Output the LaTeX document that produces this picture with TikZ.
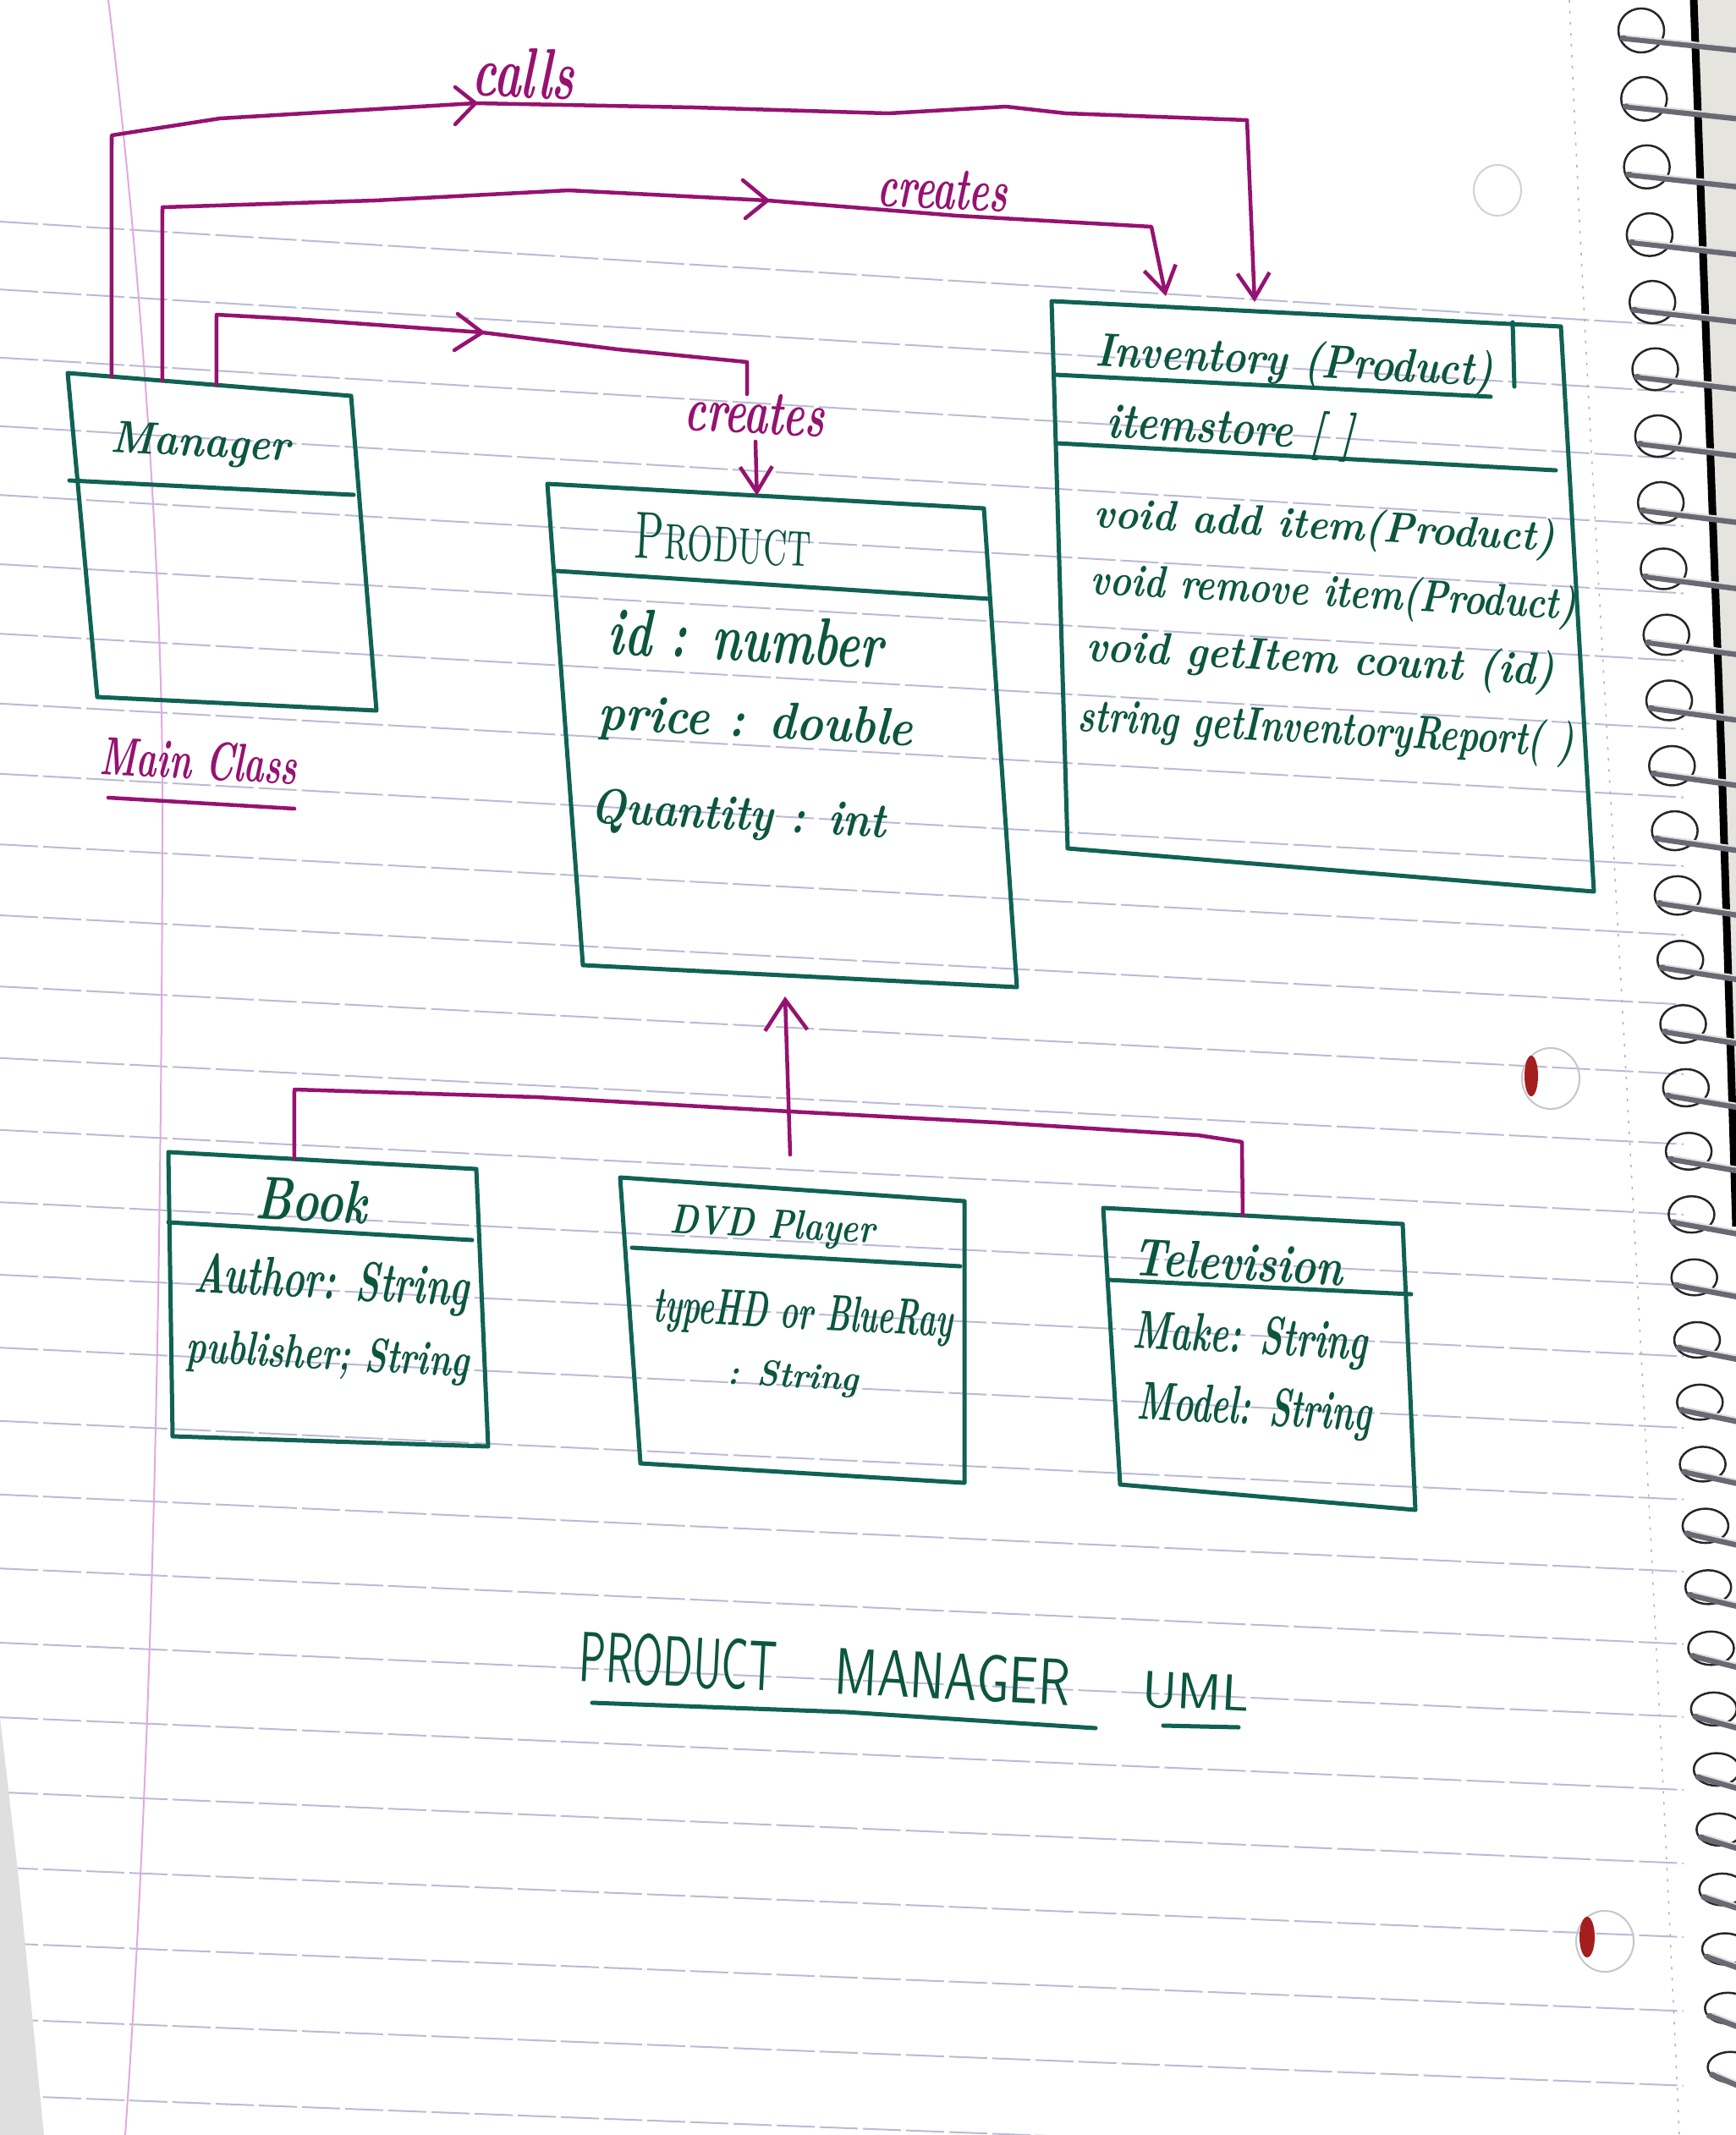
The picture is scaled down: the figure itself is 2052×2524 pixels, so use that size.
\documentclass[tikz,border=0pt]{standalone}
\usetikzlibrary{arrows.meta,calc}

\definecolor{inkgreen}{RGB}{12,86,62}
\definecolor{boxgreen}{RGB}{16,98,84}
\definecolor{inkpurple}{RGB}{150,18,112}
\definecolor{ruleblue}{RGB}{188,186,214}
\definecolor{marginpink}{RGB}{226,170,222}
\definecolor{wiregray}{RGB}{105,105,115}
\definecolor{holered}{RGB}{165,30,30}
\definecolor{coverside}{RGB}{230,228,222}

% handwriting-sized text: width, height above baseline, text
\newcommand{\handw}[3]{\resizebox{#1}{#2}{#3}}

\tikzset{
  classbox/.style={draw=boxgreen, line width=0.05cm, line join=round, line cap=round},
  link/.style={draw=inkpurple, line width=0.045cm, line join=round, line cap=round},
  tipped/.style={link, -{Straight Barb[length=0.3cm,width=0.38cm]}},
  txt/.style={anchor=base west, inner sep=0pt, rotate=-3, text=inkgreen, font=\bfseries\itshape},
  ptxt/.style={txt, text=inkpurple},
  ruling/.style={draw=ruleblue, line width=0.02cm, dash pattern=on 0.45cm off 0.06cm},
}

\begin{document}
\begin{tikzpicture}[x=0.01cm, y=-0.01cm]
\useasboundingbox (0,0) rectangle (2052,2524);
\fill[white] (0,0) rectangle (2052,2524);

% ---------- notebook paper ----------
\foreach \i in {0,...,26} {
  \pgfmathsetmacro\yy{262+80*\i+0.2*\i*\i}
  \pgfmathsetmacro\ss{0.062-0.0009*\i}
  \draw[ruling] (0,\yy) -- (1990,{\yy+\ss*1990});
}
\draw[marginpink, line width=0.02cm] (128,0) .. controls (165,300) and (195,700) .. (192,1000)
  .. controls (190,1600) and (178,2100) .. (148,2524);
\draw[gray!60, line width=0.015cm, dash pattern=on 0.03cm off 0.1cm]
  (1855,0) .. controls (1885,700) and (1930,1300) .. (1985,2524);
% punched holes
\draw[gray!35, line width=0.02cm] (1770,225) ellipse [x radius=0.28cm, y radius=0.3cm];
\draw[gray!45, line width=0.02cm] (1833,1275) ellipse [x radius=0.34cm, y radius=0.36cm];
\fill[holered] (1810,1272) ellipse [x radius=0.08cm, y radius=0.24cm];
\draw[gray!45, line width=0.02cm] (1897,2295) ellipse [x radius=0.34cm, y radius=0.36cm];
\fill[holered] (1876,2290) ellipse [x radius=0.09cm, y radius=0.24cm];
% page edge shadow
\fill[gray!25] (0,2030) -- (22,2220) -- (52,2524) -- (0,2524) -- cycle;
% cover edge and spiral binding
\fill[coverside] (2002,0) -- (2052,0) -- (2052,1450) -- (2035,900) -- cycle;
\draw[black, line width=0.09cm] (2002,0) -- (2035,900) -- (2052,1450);
\foreach \k in {0,...,32} {
  \pgfmathsetmacro\cy{36+81*\k-0.18*\k*\k}
  \pgfmathsetmacro\cx{1940+3.3*\k}
  \pgfmathsetmacro\ry{0.26-0.0025*\k}
  \draw[black!85, line width=0.025cm] (\cx,\cy) ellipse [x radius=0.27cm, y radius=\ry cm];
  \draw[wiregray, line width=0.07cm, line cap=round] ({\cx-22},{\cy+9}) -- (2060,{\cy+24});
  \draw[gray!25, line width=0.02cm] ({\cx-18},{\cy+6}) -- (2060,{\cy+20});
}

% ---------- class boxes ----------
% Manager
\coordinate (mgr-tl) at (80,441);  \coordinate (mgr-tr) at (415,468);
\coordinate (mgr-br) at (445,840); \coordinate (mgr-bl) at (115,824);
\draw[classbox] (mgr-tl) -- (mgr-tr) -- (mgr-br) -- (mgr-bl) -- cycle;
\draw[classbox] (82,568) -- (418,585);

% Product
\coordinate (prod-tl) at (647,572);   \coordinate (prod-tr) at (1163,601);
\coordinate (prod-br) at (1202,1167); \coordinate (prod-bl) at (689,1141);
\draw[classbox] (prod-tl) -- (prod-tr) -- (prod-br) -- (prod-bl) -- cycle;
\draw[classbox] (658,675) -- (1170,708);

% Inventory
\coordinate (inv-tl) at (1243,356);  \coordinate (inv-tr) at (1845,386);
\coordinate (inv-br) at (1884,1054); \coordinate (inv-bl) at (1262,1003);
\draw[classbox] (inv-tl) -- (inv-tr) -- (inv-br) -- (inv-bl) -- cycle;
\draw[classbox] (1247,443) -- (1762,469);
\draw[classbox] (1249,524) -- (1839,556);
\draw[classbox] (1788,381) -- (1790,457);

% Book
\coordinate (book-tl) at (199,1362); \coordinate (book-tr) at (563,1382);
\coordinate (book-br) at (577,1710); \coordinate (book-bl) at (204,1698);
\draw[classbox] (book-tl) -- (book-tr) -- (book-br) -- (book-bl) -- cycle;
\draw[classbox] (199,1445) -- (558,1466);

% DVD Player
\coordinate (dvd-tl) at (733,1392);  \coordinate (dvd-tr) at (1140,1420);
\coordinate (dvd-br) at (1140,1753); \coordinate (dvd-bl) at (757,1730);
\draw[classbox] (dvd-tl) -- (dvd-tr) -- (dvd-br) -- (dvd-bl) -- cycle;
\draw[classbox] (747,1475) -- (1135,1497);

% Television
\coordinate (tv-tl) at (1304,1428); \coordinate (tv-tr) at (1658,1447);
\coordinate (tv-br) at (1673,1785); \coordinate (tv-bl) at (1324,1755);
\draw[classbox] (tv-tl) -- (tv-tr) -- (tv-br) -- (tv-bl) -- cycle;
\draw[classbox] (1309,1513) -- (1668,1530);

% ---------- texts ----------
\node[txt] (mgr-name) at (130,534) {\handw{2.12cm}{0.37cm}{Manager}};
\node[ptxt] (main-lbl) at (117,915) {\handw{2.33cm}{0.45cm}{Main Class}};
\draw[link] (128,943) -- (348,956);

\node[txt, font=\rmfamily\upshape] (prod-name) at (748,659) {\handw{2.09cm}{0.54cm}{\textsc{Product}}};
\node[txt] (prod-a1) at (717,773) {\handw{3.25cm}{0.55cm}{id : number}};
\node[txt] (prod-a2) at (706,862) {\handw{3.72cm}{0.43cm}{price : double}};
\node[txt] (prod-a3) at (697,972) {\handw{3.49cm}{0.41cm}{Quantity : int}};

\node[txt] (inv-name) at (1294,432) {\handw{4.70cm}{0.42cm}{Inventory (Product)}};
\node[txt] (inv-attr) at (1307,517) {\handw{2.93cm}{0.44cm}{itemstore [ ]}};
\node[txt] (inv-m1) at (1292,623) {\handw{5.45cm}{0.38cm}{void add item(Product)}};
\node[txt] (inv-m2) at (1288,702) {\handw{5.74cm}{0.4cm}{void remove item(Product)}};
\node[txt] (inv-m3) at (1283,781) {\handw{5.54cm}{0.4cm}{void getItem count (id)}};
\node[txt] (inv-m4) at (1273,864) {\handw{5.87cm}{0.42cm}{string getInventoryReport( )}};

\node[txt] (book-name) at (301,1440) {\handw{1.31cm}{0.5cm}{Book}};
\node[txt] (book-a1) at (228,1527) {\handw{3.25cm}{0.47cm}{Author: String}};
\node[txt] (book-a2) at (219,1610) {\handw{3.34cm}{0.4cm}{publisher; String}};

\node[txt] (dvd-name) at (791,1457) {\handw{2.42cm}{0.34cm}{DVD Player}};
\node[txt] (dvd-a1) at (771,1562) {\handw{3.54cm}{0.42cm}{typeHD or BlueRay}};
\node[txt] (dvd-a2) at (859,1636) {\handw{1.55cm}{0.3cm}{: String}};

\node[txt] (tv-name) at (1338,1507) {\handw{2.48cm}{0.44cm}{Television}};
\node[txt] (tv-a1) at (1338,1593) {\handw{2.77cm}{0.45cm}{Make: String}};
\node[txt] (tv-a2) at (1343,1677) {\handw{2.77cm}{0.45cm}{Model: String}};

% title
\node[txt, font=\sffamily\upshape] (title-a) at (683,1987) {\handw{2.33cm}{0.6cm}{PRODUCT}};
\node[txt, font=\sffamily\upshape] (title-b) at (985,2002) {\handw{2.78cm}{0.55cm}{MANAGER}};
\node[txt, font=\sffamily\upshape] (title-c) at (1349,2017) {\handw{1.26cm}{0.42cm}{UML}};
\draw[classbox] (700,2013) -- (1000,2024) -- (1295,2043);
\draw[classbox] (1375,2040) -- (1464,2042);

% ---------- connectors ----------
% Manager calls Inventory
\coordinate (calls-start) at ($(mgr-tl)!0.155!(mgr-tr)$);
\coordinate (calls-up)    at (132,160);
\coordinate (calls-chev)  at (562,122);
\coordinate (calls-turn)  at (1474,142);
\coordinate (calls-end)   at (1483,357);
\draw[tipped] (calls-start) -- (calls-up) -- (260,140) -- (calls-chev) -- (820,127)
  -- (1050,134) -- (1189,126) -- (1260,134) -- (calls-turn) -- (calls-end);
\draw[link] ($(calls-chev)+(-24,-19)$) -- (calls-chev) -- ($(calls-chev)+(-24,25)$);
\node[ptxt] (lbl-calls) at (557,112) {\handw{1.2cm}{0.59cm}{calls}};

% Manager creates Inventory
\coordinate (ci-start) at ($(mgr-tl)!0.334!(mgr-tr)$);
\coordinate (ci-up)    at (192,245);
\coordinate (ci-chev)  at (907,237);
\coordinate (ci-turn)  at (1361,268);
\coordinate (ci-end)   at (1378,350);
\draw[tipped] (ci-start) -- (ci-up) -- (443,237) -- (672,225) -- (ci-chev)
  -- (1131,255) -- (ci-turn) -- (ci-end);
\draw[link] ($(ci-chev)+(-29,-24)$) -- (ci-chev) -- ($(ci-chev)+(-26,21)$);
\node[ptxt] (lbl-ci) at (1036,243) {\handw{1.53cm}{0.46cm}{creates}};

% Manager creates Product
\coordinate (cp-start) at ($(mgr-tl)!0.525!(mgr-tr)$);
\coordinate (cp-up)    at (256,372);
\coordinate (cp-chev)  at (570,393);
\coordinate (cp-turn)  at (883,428);
\coordinate (cp-stop)  at (883,466);
\coordinate (cp-resume) at (893,522);
\coordinate (cp-end)   at ($(prod-tl)!0.48!(prod-tr)$);
\draw[link] (cp-start) -- (cp-up) -- (347,377) -- (cp-chev) -- (730,413) -- (cp-turn) -- (cp-stop);
\draw[link] ($(cp-chev)+(-29,-22)$) -- (cp-chev) -- ($(cp-chev)+(-33,21)$);
\node[ptxt] (lbl-cp) at (808,508) {\handw{1.65cm}{0.48cm}{creates}};
\draw[tipped] (cp-resume) -- (cp-end);

% subclasses generalise Product
\coordinate (inh-book) at ($(book-tl)!0.409!(book-tr)$);
\coordinate (inh-up)   at (348,1288);
\coordinate (inh-mid)  at (934,1314);
\coordinate (inh-turn) at (1468,1350);
\coordinate (inh-tv)   at ($(tv-tl)!0.466!(tv-tr)$);
\coordinate (inh-stub) at (934,1365);
\coordinate (inh-tip)  at (928,1178);
\draw[link] (inh-book) -- (inh-up) -- (635,1297) -- (inh-mid) -- (1177,1327)
  -- (1416,1342) -- (inh-turn) -- (inh-tv);
\draw[link, -{Straight Barb[length=0.36cm,width=0.5cm]}] (inh-stub) -- (inh-tip);

\end{tikzpicture}
\end{document}
